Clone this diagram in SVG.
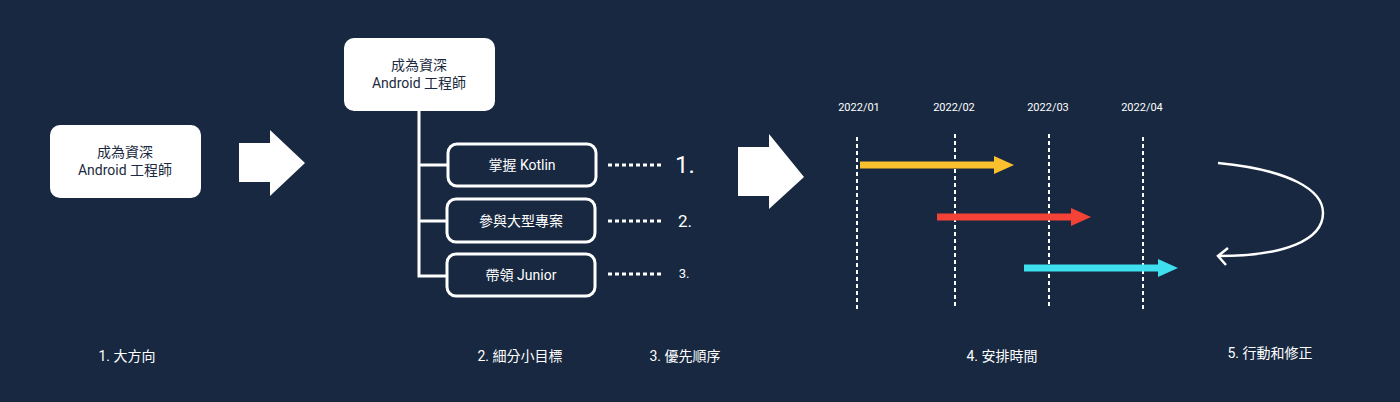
<svg xmlns="http://www.w3.org/2000/svg" width="1400" height="402" viewBox="0 0 1400 402">
<style>
text{font-family:Roboto,"Noto Sans CJK TC",sans-serif;fill:#fff;text-anchor:middle}
.dk{fill:#fff}
.dk text,.wb text{fill:#1b2a40}
.ob rect{fill:#172840;stroke:#fff;stroke-width:3}
.lbl{font-size:14px}
.dash{stroke:#fff;stroke-width:2;stroke-dasharray:4,3}
.dot{stroke:#fff;stroke-width:3;stroke-dasharray:4,3}
</style>
<rect width="1400" height="402" fill="#172840"/>
<g id="goal1" class="wb"><rect x="50" y="125" width="151" height="73" rx="10" fill="#fff"/><text x="125" y="157" font-size="14">成為資深</text><text x="125" y="175" font-size="14">Android 工程師</text></g>
<g id="goal2" class="wb"><rect x="344" y="38" width="151" height="73" rx="10" fill="#fff"/><text x="419" y="70" font-size="14">成為資深</text><text x="419" y="88" font-size="14">Android 工程師</text></g>
<g id="connectors" fill="none">
<polyline points="419,111 419,276 448,276" stroke="#fff" stroke-width="3"/>
<line x1="419" y1="165" x2="448" y2="165" stroke="#fff" stroke-width="3"/>
<line x1="419" y1="221" x2="448" y2="221" stroke="#fff" stroke-width="3"/>
<line x1="608" y1="165" x2="664" y2="165" class="dot"/>
<line x1="608" y1="221" x2="664" y2="221" class="dot"/>
<line x1="608" y1="274" x2="664" y2="274" class="dot"/>
<polygon points="239,143 270,143 270,130 305,163 270,196 270,182 239,182" fill="#fff"/>
<polygon points="738,147 769,147 769,134 804,177 769,209 769,196 738,196" fill="#fff"/>
<line x1="857" y1="137" x2="857" y2="309" class="dash"/>
<line x1="955" y1="134" x2="955" y2="307" class="dash"/>
<line x1="1049" y1="134" x2="1049" y2="307" class="dash"/>
<line x1="1143" y1="137" x2="1143" y2="309" class="dash"/>
<path d="M860 165H995" stroke="#fbc02d" stroke-width="7"/><polygon points="994,156 1014,165 994,174" fill="#fbc02d"/>
<path d="M937 217H1072" stroke="#f44336" stroke-width="7"/><polygon points="1071,208 1091,217 1071,226" fill="#f44336"/>
<path d="M1024 268H1159" stroke="#3ee0f0" stroke-width="7"/><polygon points="1158,259 1178,268 1158,277" fill="#3ee0f0"/>
<path d="M1218 163C1290 170 1323 190 1323 213C1323 240 1285 256 1218 256" stroke="#fff" stroke-width="2.5"/>
<polyline points="1228,248 1218,256 1226,265" stroke="#fff" stroke-width="2.5"/>
</g>
<g id="t1" class="ob"><rect x="448" y="144" width="148" height="42" rx="9"/><text x="522" y="170" font-size="14">掌握 Kotlin</text></g>
<g id="t2" class="ob"><rect x="447" y="199" width="148" height="43" rx="9"/><text x="521" y="226" font-size="14">參與大型專案</text></g>
<g id="t3" class="ob"><rect x="447" y="254" width="148" height="42" rx="9"/><text x="521" y="280" font-size="14">帶領 Junior</text></g>
<text x="685" y="173" font-size="24">1.</text>
<text x="685" y="227" font-size="17">2.</text>
<text x="684" y="278" font-size="13">3.</text>
<text x="859" y="111" font-size="11">2022/01</text>
<text x="954" y="111" font-size="11">2022/02</text>
<text x="1048" y="111" font-size="11">2022/03</text>
<text x="1142" y="111" font-size="11">2022/04</text>
<text x="127" y="361" class="lbl">1. 大方向</text>
<text x="520" y="361" class="lbl">2. 細分小目標</text>
<text x="685" y="361" class="lbl">3. 優先順序</text>
<text x="1002" y="361" class="lbl">4. 安排時間</text>
<text x="1270" y="358" class="lbl">5. 行動和修正</text>
</svg>
